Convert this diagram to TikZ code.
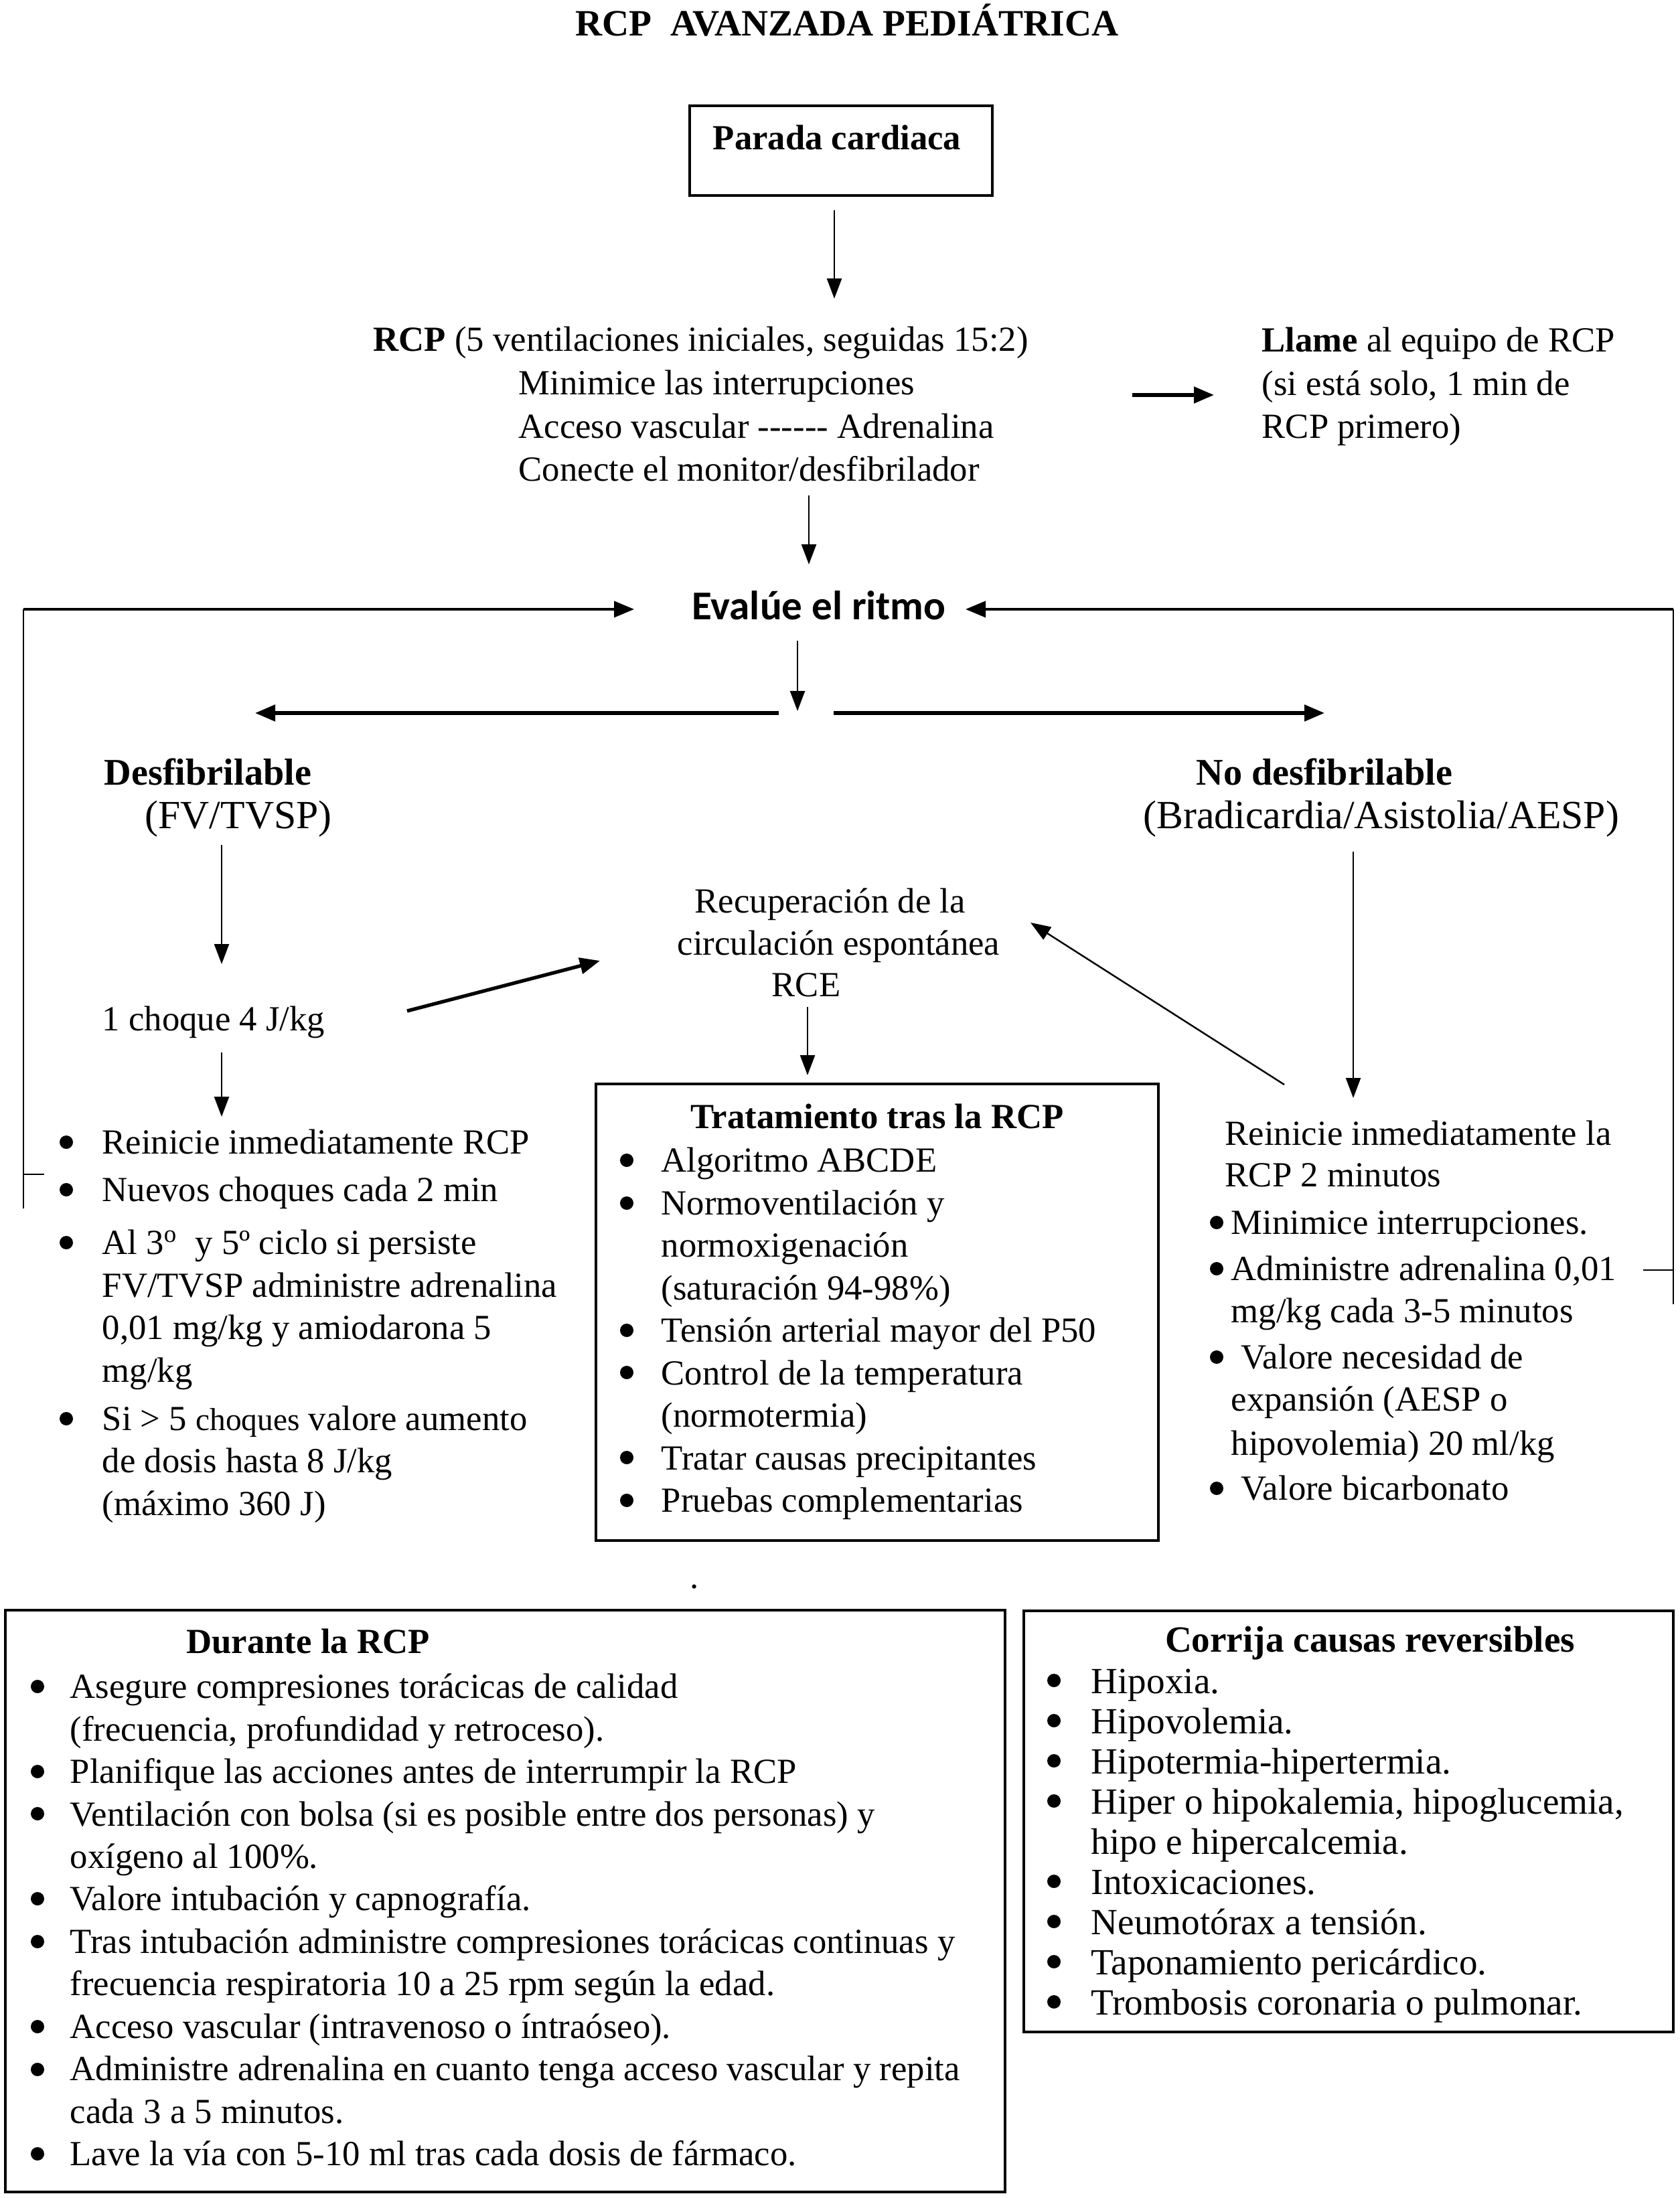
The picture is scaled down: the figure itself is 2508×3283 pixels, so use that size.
\documentclass[tikz,border=0pt]{standalone}
\usepackage{fontspec}
\setmainfont{Liberation Serif}
\newfontfamily\evfont{Carlito}
\usetikzlibrary{arrows.meta}
\newcommand\bodyfont{\fontsize{15}{17.93}\selectfont}
\newcommand\ts{\rule{0pt}{4.4mm}}
\begin{document}
\begin{tikzpicture}[x=0.1mm,y=-0.1mm,
  ar/.style={line width=0.7pt,-{Triangle[length=3mm,width=2.2mm]}},
  arB/.style={line width=1.5pt,-{Triangle[length=3mm,width=2.4mm]}},
  arM/.style={line width=1.1pt,-{Triangle[length=3mm,width=2.4mm]}},
  loopln/.style={line width=0.7pt},
  box/.style={draw,line width=0.9pt,inner sep=0pt},
  blk/.style={inner sep=0pt,anchor=north west,align=left},
  one/.style={inner sep=0pt,anchor=base west},
  ctr/.style={inner sep=0pt,anchor=base},
  bdot/.style={fill=black},
]
\fill[white] (0,0) rectangle (2508,3283);
\useasboundingbox (0,0) rectangle (2508,3283);

% title
\node[ctr,font={\fontsize{15.8}{19}\selectfont\bfseries}] (title) at (1265,54) {RCP\ \ AVANZADA PEDIÁTRICA};

% Parada cardiaca
\node[box,minimum width=45.2mm,minimum height=13.4mm] (parada) at (1256,225) {};
\node[ctr,font=\bodyfont\bfseries] (paradat) at (1250,224) {Parada cardiaca};

% RCP block
\node[blk,font={\fontsize{15}{18.4}\selectfont}] (rcp) at (557,480) {\ts\textbf{RCP} (5 ventilaciones iniciales, seguidas 15:2)\\
\hspace*{21.7mm}Minimice las interrupciones\\
\hspace*{21.7mm}Acceso vascular -{}-{}-{}-{}-{}- Adrenalina\\
\hspace*{21.7mm}Conecte el monitor/desfibrilador};

\node[blk,font={\fontsize{15}{18.36}\selectfont}] (llame) at (1884,481) {\ts\textbf{Llame} al equipo de RCP\\(si está solo, 1 min de\\RCP primero)};

% Evalue
\node[ctr,font={\evfont\bfseries\fontsize{17.4}{20}\selectfont}] (eval) at (1223,925) {Evalúe el ritmo};

% branches
\node[blk,font={\fontsize{17}{18.5}\selectfont}] (desf) at (155,1128) {\ts{\fontsize{16}{18.5}\selectfont\bfseries Desfibrilable}\\\hspace*{6.1mm}(FV/TVSP)};
\node[blk,font={\fontsize{17}{18.5}\selectfont}] (nodesf) at (1707,1128) {\ts\hspace*{7.9mm}{\fontsize{16}{18.5}\selectfont\bfseries No desfibrilable}\\(Bradicardia/Asistolia/AESP)};

\node[one,font=\bodyfont] (choque) at (152,1539) {1 choque 4 J/kg};

\node[blk,font={\fontsize{15}{17.8}\selectfont}] (rce) at (1011,1319) {\ts\hspace*{2.6mm}Recuperación de la\\circulación espontánea\\\hspace*{14.1mm}RCE};

% left list
\node[blk,font=\bodyfont] (desflist) at (152,1679) {\ts Reinicie inmediatamente RCP\\[2.3pt]
Nuevos choques cada 2 min\\[4.5pt]
Al 3\textsuperscript{o}\ \ y 5º ciclo si persiste\\[0.3pt]
FV/TVSP administre adrenalina\\
0,01 mg/kg y amiodarona 5\\[0.3pt]
mg/kg\\[2.6pt]
Si > 5 {\fontsize{13.5}{14}\selectfont choques} valore aumento\\
de dosis hasta 8 J/kg\\
(máximo 360 J)};
\foreach \yy [count=\i] in {1706,1777,1856,2119}
  \fill[bdot] (99,\yy) circle[radius=1mm];

% right list
\node[blk,font=\bodyfont] (nodlist) at (1838,1666) {\ts\hspace*{-0.9mm}Reinicie inmediatamente la\\[-0.3pt]
\hspace*{-0.9mm}RCP 2 minutos\\[2.3pt]
Minimice interrupciones.\\[1.7pt]
Administre adrenalina 0,01\\
mg/kg cada 3-5 minutos\\[1.7pt]
\hspace*{1.5mm}Valore necesidad de\\
expansión (AESP o\\[0.9pt]
hipovolemia) 20 ml/kg\\[1.1pt]
\hspace*{1.5mm}Valore bicarbonato};
\foreach \yy in {1826,1895,2027,2223}
  \fill[bdot] (1817,\yy) circle[radius=1mm];

% Tratamiento box
\node[box,minimum width=84mm,minimum height=68.2mm] (trat) at (1310,1960) {};
\node[ctr,font=\bodyfont\bfseries] (trattit) at (1310,1685) {Tratamiento tras la RCP};
\node[blk,font={\fontsize{15}{18.07}\selectfont}] (tratlist) at (987,1706) {\ts Algoritmo ABCDE\\
Normoventilación y\\
normoxigenación\\
(saturación 94-98\%)\\
Tensión arterial mayor del P50\\
Control de la temperatura\\
(normotermia)\\
Tratar causas precipitantes\\
Pruebas complementarias};
\foreach \yy in {1733,1797,1987,2050,2177,2241}
  \fill[bdot] (936,\yy) circle[radius=1mm];

\node[ctr,font=\bodyfont] (dot) at (1037,2372) {.};

% Durante box
\node[box,minimum width=149.3mm,minimum height=86.9mm] (dur) at (754.5,2839.5) {};
\node[ctr,font=\bodyfont\bfseries] (durtit) at (460,2469) {Durante la RCP};
\node[blk,font={\fontsize{15}{18.05}\selectfont}] (durlist) at (104,2492) {\ts Asegure compresiones torácicas de calidad\\
(frecuencia, profundidad y retroceso).\\
Planifique las acciones antes de interrumpir la RCP\\
Ventilación con bolsa (si es posible entre dos personas) y\\
oxígeno al 100\%.\\
Valore intubación y capnografía.\\
Tras intubación administre compresiones torácicas continuas y\\
frecuencia respiratoria 10 a 25 rpm según la edad.\\
Acceso vascular (intravenoso o íntraóseo).\\
Administre adrenalina en cuanto tenga acceso vascular y repita\\
cada 3 a 5 minutos.\\
Lave la vía con 5-10 ml tras cada dosis de fármaco.};
\foreach \yy in {2519,2646,2709,2836,2900,3027,3091,3217}
  \fill[bdot] (56,\yy) circle[radius=1mm];

% Corrija box
\node[box,minimum width=97mm,minimum height=62.9mm] (corr) at (2014,2720.5) {};
\node[ctr,font={\fontsize{15.7}{17}\selectfont\bfseries}] (corrtit) at (2046,2467) {Corrija causas reversibles};
\node[blk,font={\fontsize{15.7}{17.07}\selectfont}] (corrlist) at (1629,2485) {\ts Hipoxia.\\
Hipovolemia.\\
Hipotermia-hipertermia.\\
Hiper o hipokalemia, hipoglucemia,\\
hipo e hipercalcemia.\\
Intoxicaciones.\\
Neumotórax a tensión.\\
Taponamiento pericárdico.\\
Trombosis coronaria o pulmonar.};
\foreach \yy in {2510,2570,2630,2690,2810,2870,2930,2990}
  \fill[bdot] (1574,\yy) circle[radius=1mm];

% connector end points
\coordinate (a1s) at (1246,314);  \coordinate (a1e) at (1246,446);
\coordinate (a2s) at (1691,590);  \coordinate (a2e) at (1813,590);
\coordinate (a3s) at (1208,740);  \coordinate (a3e) at (1208,843);
\coordinate (a4s) at (1191,957);  \coordinate (a4e) at (1191,1062);
\coordinate (bLs) at (1163,1065); \coordinate (bLe) at (381,1065);
\coordinate (bRs) at (1245,1065); \coordinate (bRe) at (1978,1065);
\coordinate (a5s) at (331,1262);  \coordinate (a5e) at (331,1440);
\coordinate (a6s) at (2021,1272); \coordinate (a6e) at (2021,1640);
\coordinate (a7s) at (608,1510);  \coordinate (a7e) at (896,1435);
\coordinate (a8s) at (1918,1620); \coordinate (a8e) at (1539,1378);
\coordinate (a9s) at (1206,1504); \coordinate (a9e) at (1206,1606);
\coordinate (a10s) at (331,1572); \coordinate (a10e) at (331,1668);
\coordinate (lLb) at (35,1805);   \coordinate (lLc) at (35,910);  \coordinate (lLe) at (947,910);
\coordinate (lLt) at (35,1754);   \coordinate (lLt2) at (66,1754);
\coordinate (lRb) at (2499,1948); \coordinate (lRc) at (2499,910); \coordinate (lRe) at (1442,910);
\coordinate (lRt) at (2499,1897); \coordinate (lRt2) at (2454,1897);

\draw[ar] (a1s) -- (a1e);
\draw[arB] (a2s) -- (a2e);
\draw[ar] (a3s) -- (a3e);
\draw[ar] (a4s) -- (a4e);
\draw[arB] (bLs) -- (bLe);
\draw[arB] (bRs) -- (bRe);
\draw[ar] (a5s) -- (a5e);
\draw[ar] (a6s) -- (a6e);
\draw[arB] (a7s) -- (a7e);
\draw[ar] (a8s) -- (a8e);
\draw[ar] (a9s) -- (a9e);
\draw[ar] (a10s) -- (a10e);
\draw[loopln] (lLb) -- (lLc);
\draw[loopln] (lLt) -- (lLt2);
\draw[arM] (lLc) -- (lLe);
\draw[loopln] (lRb) -- (lRc);
\draw[loopln] (lRt) -- (lRt2);
\draw[arM] (lRc) -- (lRe);
\end{tikzpicture}
\end{document}
